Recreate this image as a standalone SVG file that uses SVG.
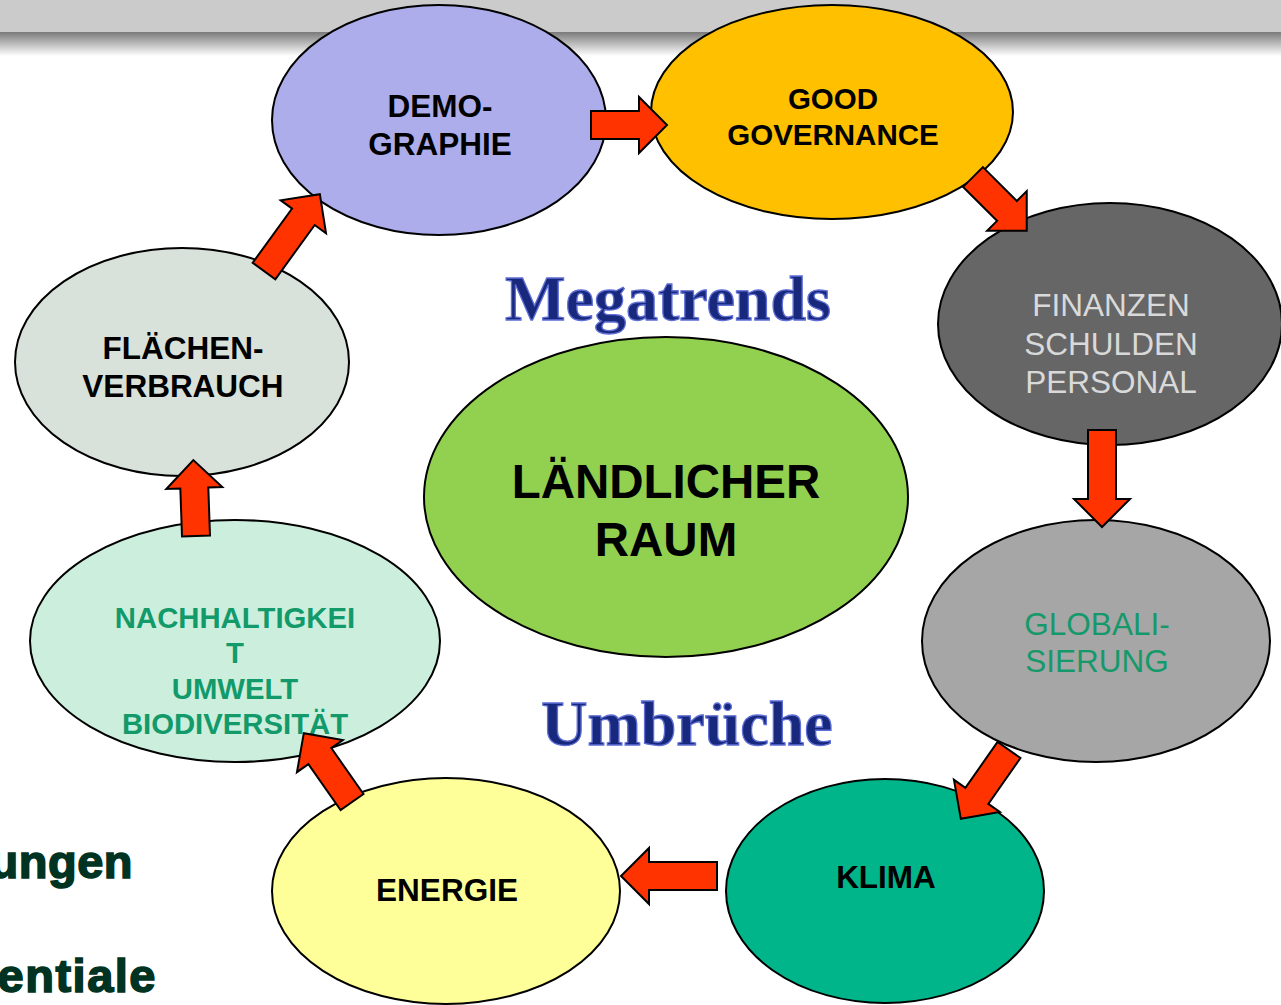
<svg xmlns="http://www.w3.org/2000/svg" width="1281" height="1005" viewBox="0 0 1281 1005">
<defs>
<linearGradient id="bar" x1="0" y1="0" x2="0" y2="1">
<stop offset="0" stop-color="#7a7a7a"/>
<stop offset="0.4" stop-color="#b0b0b0"/>
<stop offset="1" stop-color="#ffffff"/>
</linearGradient>
<style>
.el{stroke:#000;stroke-width:2}
.b{font-family:"Liberation Sans",Arial,sans-serif;font-weight:bold;text-anchor:middle}
.r{font-family:"Liberation Sans",Arial,sans-serif;text-anchor:middle}
.arr{fill:#ff3300;stroke:#000;stroke-width:2;stroke-linejoin:miter}
.ser{font-family:"Liberation Serif","Times New Roman",serif;font-weight:bold;fill:#18287c;stroke:#5f6fd6;stroke-width:1.3;text-anchor:middle}
.side{font-family:"Liberation Sans",Arial,sans-serif;font-weight:bold;fill:#003322;stroke:#003322;stroke-width:1.6;text-anchor:end;font-size:47px}
</style>
</defs>
<rect x="0" y="0" width="1281" height="1005" fill="#ffffff"/>
<rect x="0" y="0" width="1281" height="32" fill="#cbcbcb"/>
<rect x="0" y="32" width="1281" height="24" fill="url(#bar)"/>

<text class="side" x="133" y="878" letter-spacing="0.5">ungen</text>
<text class="side" x="157" y="992" letter-spacing="1.5">entiale</text>

<text class="ser" x="668" y="320" font-size="64">Megatrends</text>
<text class="ser" x="687" y="745" font-size="64">Umbrüche</text>

<g id="node-demographie">
<ellipse class="el" cx="439" cy="120" rx="167" ry="115" fill="#adadec"/>
<text class="b" x="440" y="117" font-size="31.5">DEMO-</text>
<text class="b" x="440" y="155" font-size="31.5">GRAPHIE</text>
</g>
<g id="node-governance">
<ellipse class="el" cx="832" cy="112" rx="181" ry="107" fill="#ffc000"/>
<text class="b" x="833" y="109" font-size="29.5">GOOD</text>
<text class="b" x="833" y="145" font-size="29.5">GOVERNANCE</text>
</g>
<g id="node-finanzen">
<ellipse class="el" cx="1110" cy="324" rx="172" ry="121" fill="#666666"/>
<text class="r" x="1111" y="316" font-size="31.5" fill="#d9d9d9">FINANZEN</text>
<text class="r" x="1111" y="355" font-size="31.5" fill="#d9d9d9">SCHULDEN</text>
<text class="r" x="1111" y="393" font-size="31.5" fill="#d9d9d9">PERSONAL</text>
</g>
<g id="node-globalisierung">
<ellipse class="el" cx="1096" cy="641" rx="174" ry="121" fill="#a6a6a6"/>
<text class="r" x="1097" y="635" font-size="31.5" fill="#16996a">GLOBALI-</text>
<text class="r" x="1097" y="672" font-size="31.5" fill="#16996a">SIERUNG</text>
</g>
<g id="node-klima">
<ellipse class="el" cx="885" cy="891" rx="159" ry="112" fill="#00b58a"/>
<text class="b" x="886" y="888" font-size="31.5">KLIMA</text>
</g>
<g id="node-energie">
<ellipse class="el" cx="446" cy="891" rx="174" ry="113" fill="#ffff99"/>
<text class="b" x="447" y="901" font-size="31.5">ENERGIE</text>
</g>
<g id="node-nachhaltigkeit">
<ellipse class="el" cx="235" cy="641" rx="205" ry="121" fill="#ccefdd"/>
<text class="b" x="235" y="628" font-size="29.3" fill="#129a6a">NACHHALTIGKEI</text>
<text class="b" x="235" y="663" font-size="29.3" fill="#129a6a">T</text>
<text class="b" x="235" y="699" font-size="29.3" fill="#129a6a">UMWELT</text>
<text class="b" x="235" y="734" font-size="29.3" fill="#129a6a">BIODIVERSITÄT</text>
</g>
<g id="node-flaechen">
<ellipse class="el" cx="182" cy="362" rx="167" ry="114" fill="#d9e2da"/>
<text class="b" x="183" y="359" font-size="31.5">FLÄCHEN-</text>
<text class="b" x="183" y="397" font-size="31.5">VERBRAUCH</text>
</g>
<g id="node-laendlicher-raum">
<ellipse class="el" cx="666" cy="497" rx="242" ry="160" fill="#92d050"/>
<text class="b" x="666" y="498" font-size="47.5">LÄNDLICHER</text>
<text class="b" x="666" y="556" font-size="47.5">RAUM</text>
</g>

<g id="connectors">
<path class="arr" transform="translate(591,125)" d="M0,-14 H48 V-28 L76,0 L48,28 V14 H0 Z"/>
<path class="arr" transform="translate(973,177) rotate(45)" d="M0,-14 H48 V-28 L76,0 L48,28 V14 H0 Z"/>
<path class="arr" transform="translate(1102,430) rotate(90)" d="M0,-14 H69 V-28 L97,0 L69,28 V14 H0 Z"/>
<path class="arr" transform="translate(1009,750) rotate(125)" d="M0,-14 H56 V-28 L84,0 L56,28 V14 H0 Z"/>
<path class="arr" transform="translate(717,876) rotate(180)" d="M0,-14 H68 V-28 L96,0 L68,28 V14 H0 Z"/>
<path class="arr" transform="translate(352,802) rotate(235)" d="M0,-14 H56 V-28 L84,0 L56,28 V14 H0 Z"/>
<path class="arr" transform="translate(196,536) rotate(268)" d="M0,-14 H48 V-28 L76,0 L48,28 V14 H0 Z"/>
<path class="arr" transform="translate(264,271) rotate(-54)" d="M0,-14 H67 V-28 L95,0 L67,28 V14 H0 Z"/>
</g>
</svg>
